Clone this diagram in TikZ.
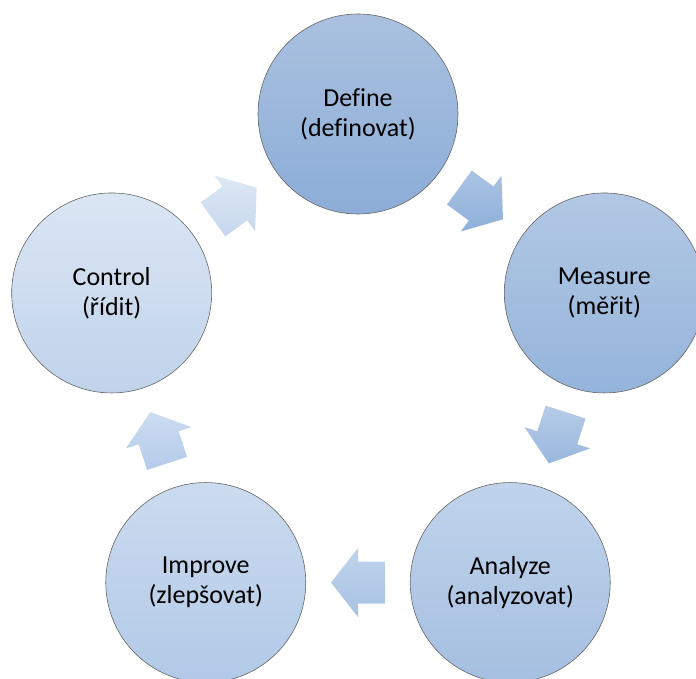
\documentclass[tikz,border=0pt]{standalone}
\usepackage{fontspec}
\setmainfont[Ligatures=NoCommon]{Carlito}
\usetikzlibrary{calc}
\definecolor{dT}{HTML}{AAC1DF}
\definecolor{dB}{HTML}{8CADD8}
\definecolor{mT}{HTML}{B2C8E4}
\definecolor{mB}{HTML}{95B4DB}
\definecolor{aT}{HTML}{C0D3EB}
\definecolor{aB}{HTML}{A5BFE1}
\definecolor{iT}{HTML}{CCDBEF}
\definecolor{iB}{HTML}{B1C9E7}
\definecolor{cT}{HTML}{DBE6F4}
\definecolor{cB}{HTML}{C0D3EB}
\definecolor{a1T}{HTML}{AAC3E3}
\definecolor{a1B}{HTML}{8FB0D9}
\definecolor{a2T}{HTML}{B6CBE7}
\definecolor{a2B}{HTML}{99B7DE}
\definecolor{a3T}{HTML}{C0D3EC}
\definecolor{a3B}{HTML}{A7C2E3}
\definecolor{a4T}{HTML}{CDDCF0}
\definecolor{a4B}{HTML}{B4CBEA}
\definecolor{a5T}{HTML}{DEE8F5}
\definecolor{a5B}{HTML}{C6D7EE}
\newcommand\cyclearrow[4]{%
  \begin{scope}[shift={(#1)}, rotate=#2]
    \shade[top color=#3, bottom color=#4]
      (-27,-21) -- (0,-21) -- (0,-34.5) -- (27,0) -- (0,34.5) -- (0,21) -- (-27,21) -- cycle;
  \end{scope}}
\begin{document}
\begin{tikzpicture}[x=1pt,y=1pt,
  stage/.style={circle, draw=black!60, line width=0.6pt, minimum size=200pt,
    inner sep=0pt, align=center, font=\fontsize{26}{30}\selectfont}]
\clip (0,0) rectangle (696,-679);
\coordinate (c) at (358,-373);
\node[stage, top color=dT, bottom color=dB] (d) at ($(c)+(90:259)$) {Define\\(definovat)};
\node[stage, top color=mT, bottom color=mB] (m) at ($(c)+(18:259)$) {Measure\\(měřit)};
\node[stage, top color=aT, bottom color=aB] (a) at ($(c)+(-54:259)$) {Analyze\\(analyzovat)};
\node[stage, top color=iT, bottom color=iB] (i) at ($(c)+(-126:259)$) {Improve\\(zlepšovat)};
\node[stage, top color=cT, bottom color=cB] (k) at ($(c)+(162:259)$) {Control\\(řídit)};
\path (d.center) -- (m.center) coordinate[pos=.5] (dm);
\path (m.center) -- (a.center) coordinate[pos=.5] (ma);
\path (a.center) -- (i.center) coordinate[pos=.5] (ai);
\path (i.center) -- (k.center) coordinate[pos=.5] (ik);
\path (k.center) -- (d.center) coordinate[pos=.5] (kd);
\cyclearrow{dm}{-36}{a1T}{a1B}
\cyclearrow{ma}{-108}{a2T}{a2B}
\cyclearrow{ai}{180}{a3T}{a3B}
\cyclearrow{ik}{108}{a4T}{a4B}
\cyclearrow{kd}{36}{a5T}{a5B}
\end{tikzpicture}
\end{document}
